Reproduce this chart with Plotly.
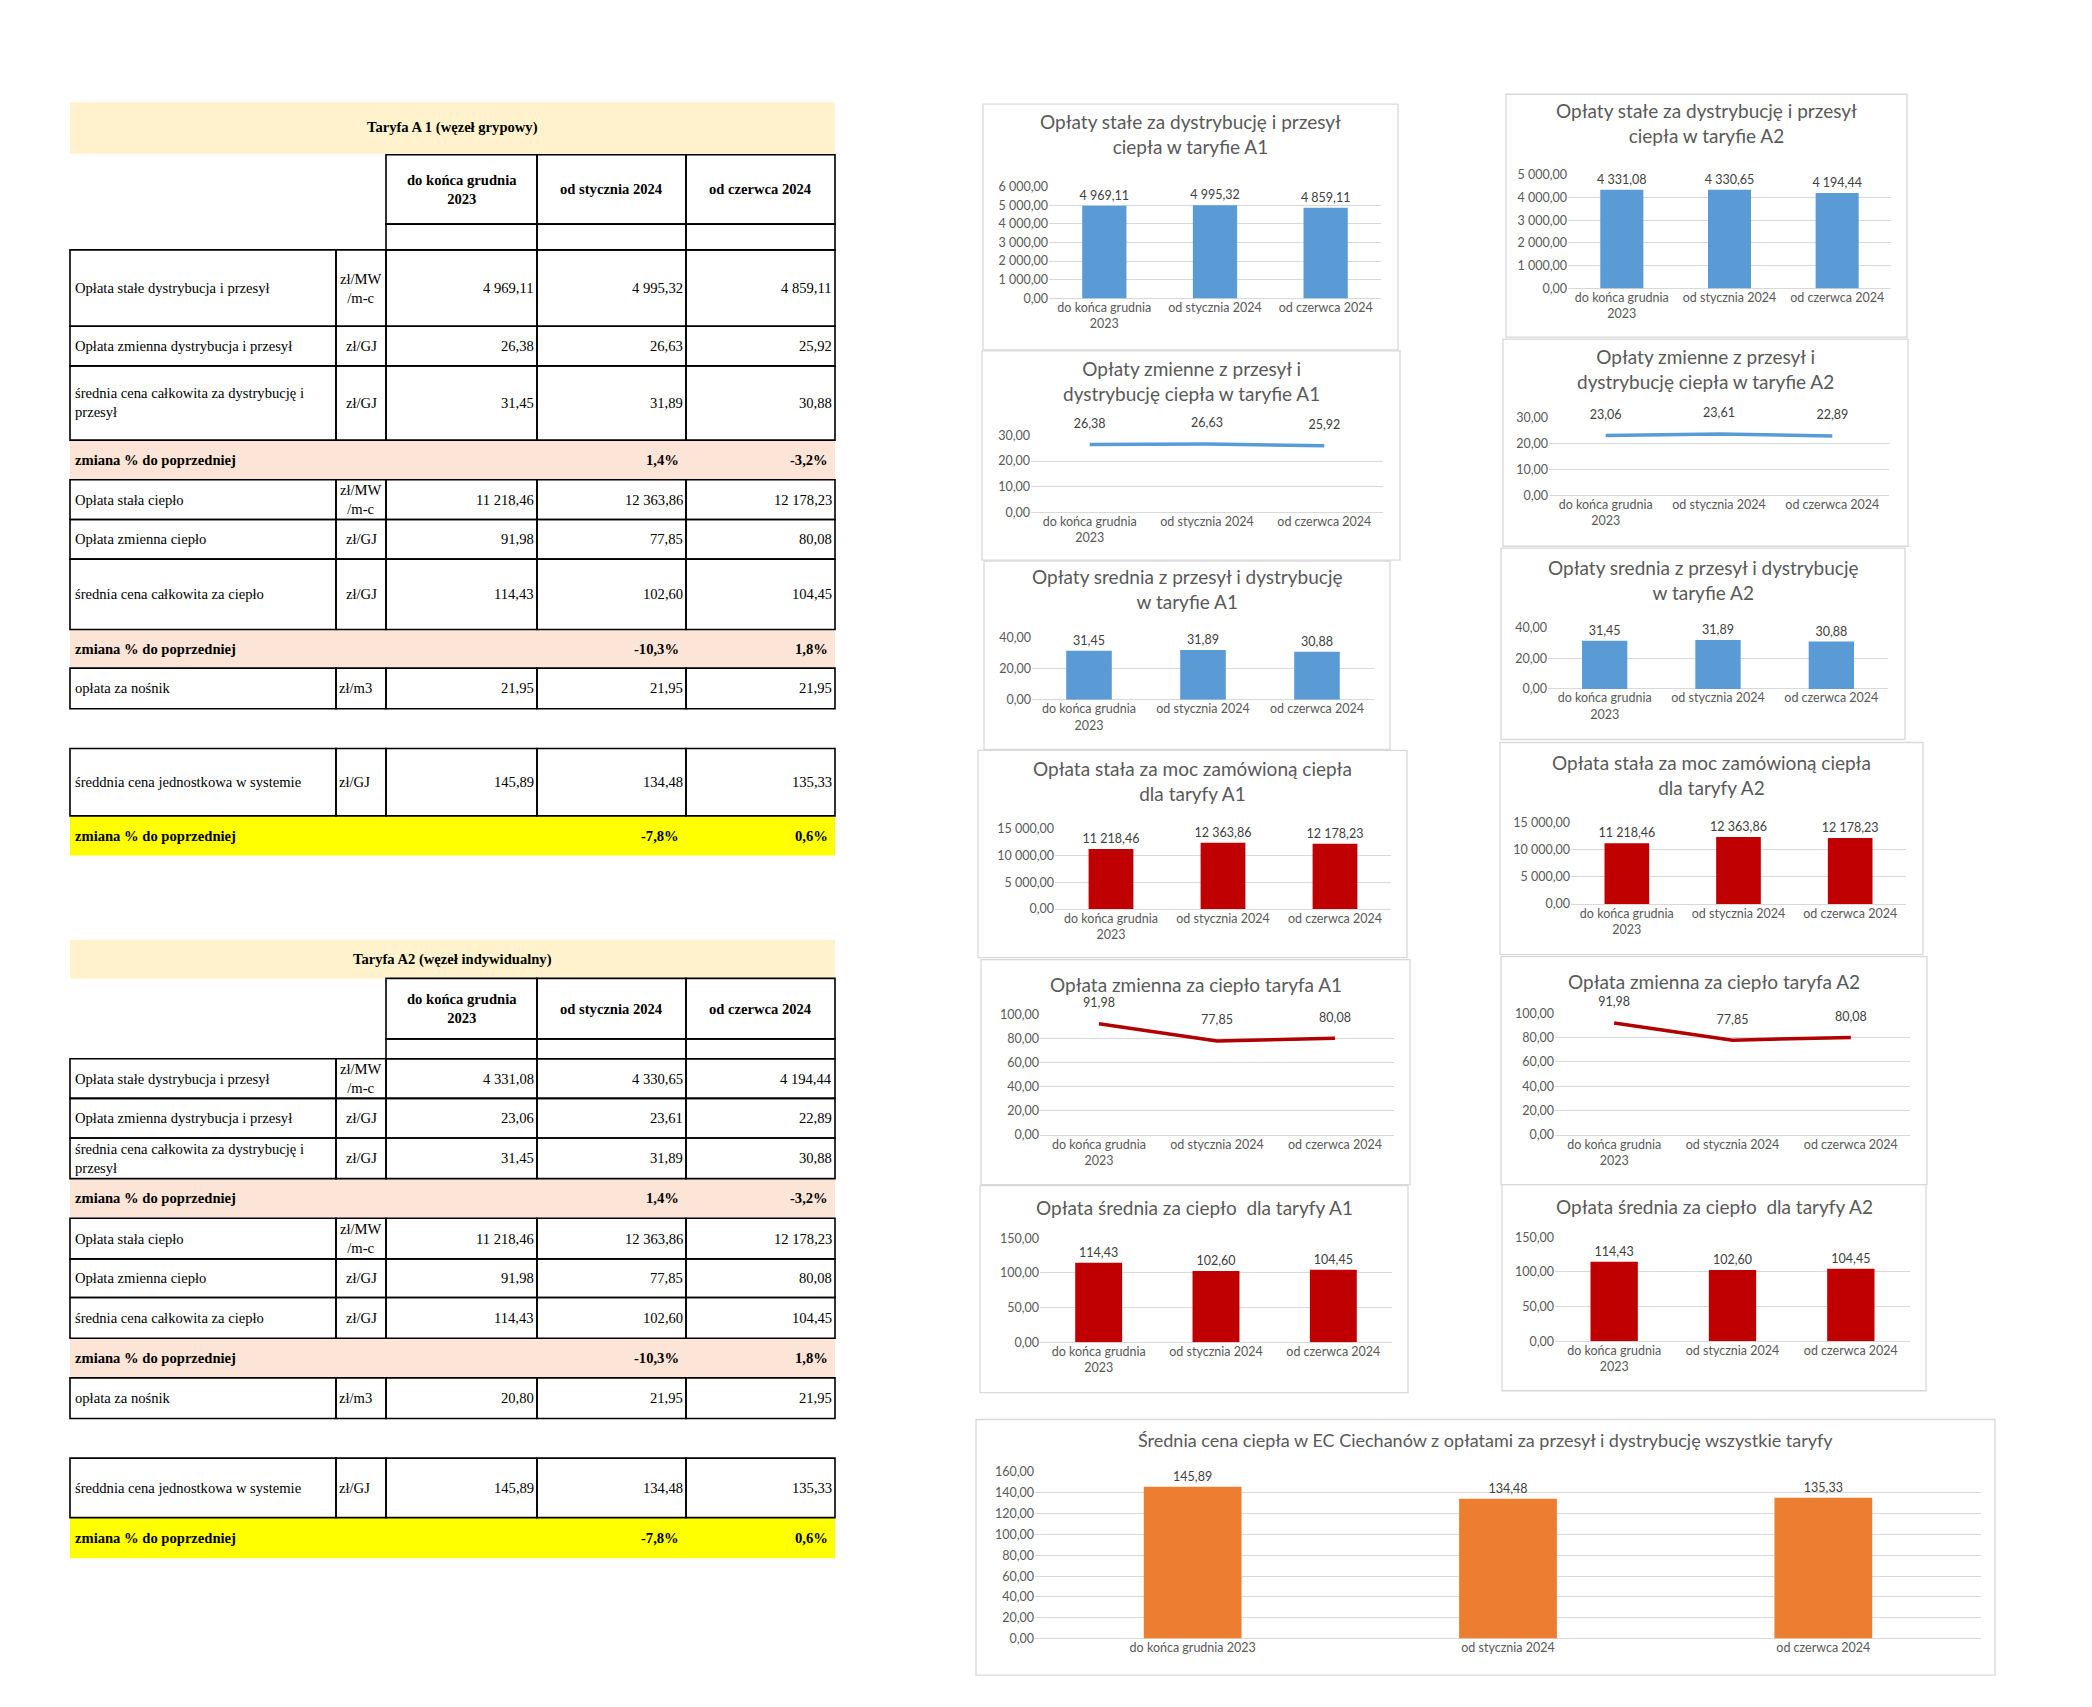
import plotly.graph_objects as go

W, H = 2092, 1707

# ---------------- DATA ----------------
periods = ["do końca grudnia 2023", "od stycznia 2024", "od czerwca 2024"]

# Taryfa A1 (węzeł grupowy)
a1_stale_dp = [4969.11, 4995.32, 4859.11]
a1_zmienne_dp = [26.38, 26.63, 25.92]
a1_srednia_dp = [31.45, 31.89, 30.88]
a1_zmiana_dp = [None, 1.4, -3.2]
a1_stala_cieplo = [11218.46, 12363.86, 12178.23]
a1_zmienna_cieplo = [91.98, 77.85, 80.08]
a1_srednia_cieplo = [114.43, 102.60, 104.45]
a1_zmiana_cieplo = [None, -10.3, 1.8]
a1_nosnik = [21.95, 21.95, 21.95]
a1_srednia_system = [145.89, 134.48, 135.33]
a1_zmiana_system = [None, -7.8, 0.6]

# Taryfa A2 (węzeł indywidualny)
a2_stale_dp = [4331.08, 4330.65, 4194.44]
a2_zmienne_dp = [23.06, 23.61, 22.89]
a2_srednia_dp = [31.45, 31.89, 30.88]
a2_zmiana_dp = [None, 1.4, -3.2]
a2_stala_cieplo = [11218.46, 12363.86, 12178.23]
a2_zmienna_cieplo = [91.98, 77.85, 80.08]
a2_srednia_cieplo = [114.43, 102.60, 104.45]
a2_zmiana_cieplo = [None, -10.3, 1.8]
a2_nosnik = [20.80, 21.95, 21.95]
a2_srednia_system = [145.89, 134.48, 135.33]
a2_zmiana_system = [None, -7.8, 0.6]

# Średnia cena ciepła w EC Ciechanów
srednia_ec = [145.89, 134.48, 135.33]

table_titles = ["Taryfa A 1 (węzeł grypowy)", "Taryfa A2 (węzeł indywidualny)"]
row_labels = [
    "Opłata stałe dystrybucja i przesył",
    "Opłata zmienna dystrybucja i przesył",
    "średnia cena całkowita za dystrybucję i<br>przesył",
    "zmiana % do poprzedniej",
    "Opłata stała ciepło",
    "Opłata zmienna ciepło",
    "średnia cena całkowita za ciepło",
    "zmiana % do poprzedniej",
    "opłata za nośnik",
    "średdnia cena jednostkowa w systemie",
    "zmiana % do poprzedniej",
]
row_units = ["zł/MW<br>/m-c", "zł/GJ", "zł/GJ", "", "zł/MW<br>/m-c", "zł/GJ", "zł/GJ", "", "zł/m3", "zł/GJ", ""]
a1_rows = [a1_stale_dp, a1_zmienne_dp, a1_srednia_dp, a1_zmiana_dp, a1_stala_cieplo,
           a1_zmienna_cieplo, a1_srednia_cieplo, a1_zmiana_cieplo, a1_nosnik,
           a1_srednia_system, a1_zmiana_system]
a2_rows = [a2_stale_dp, a2_zmienne_dp, a2_srednia_dp, a2_zmiana_dp, a2_stala_cieplo,
           a2_zmienna_cieplo, a2_srednia_cieplo, a2_zmiana_cieplo, a2_nosnik,
           a2_srednia_system, a2_zmiana_system]

chart_titles = [
    "Opłaty stałe za dystrybucję i przesył<br>ciepła w taryfie A1",
    "Opłaty zmienne z przesył i<br>dystrybucję ciepła w taryfie A1",
    "Opłaty srednia z przesył i dystrybucję<br>w taryfie A1",
    "Opłata stała za moc zamówioną ciepła<br>dla taryfy A1",
    "Opłata zmienna za ciepło taryfa A1",
    "Opłata średnia za ciepło  dla taryfy A1",
    "Opłaty stałe za dystrybucję i przesył<br>ciepła w taryfie A2",
    "Opłaty zmienne z przesył i<br>dystrybucję ciepła w taryfie A2",
    "Opłaty srednia z przesył i dystrybucję<br>w taryfie A2",
    "Opłata stała za moc zamówioną ciepła<br>dla taryfy A2",
    "Opłata zmienna za ciepło taryfa A2",
    "Opłata średnia za ciepło  dla taryfy A2",
    "Średnia cena ciepła w EC Ciechanów z opłatami za przesył i dystrybucję wszystkie taryfy",
]
chart_values = [a1_stale_dp, a1_zmienne_dp, a1_srednia_dp, a1_stala_cieplo, a1_zmienna_cieplo,
                a1_srednia_cieplo, a2_stale_dp, a2_zmienne_dp, a2_srednia_dp, a2_stala_cieplo,
                a2_zmienna_cieplo, a2_srednia_cieplo, srednia_ec]

# ---------------- STYLE / GEOMETRY ----------------
TFONT = "Liberation Serif"
CFONT = "Lato"
TSIZE = 14.6
CSIZE = 12.5
BAND = "#FFF2CC"
PINK = "#FCE4D6"
YELLOW = "#FFFF00"
BLUE = "#5B9BD5"
RED = "#C00000"
DARKRED = "#B00000"
ORANGE = "#ED7D31"
GRID = "#D9D9D9"

def X(x):
    return x / W

def Y(y):
    return 1 - y / H

fills, borders, annotations = [], [], []

def rect(lst, x0, y0, x1, y1, fill=None, line=None, lw=1.6):
    lst.append(dict(type="rect", xref="paper", yref="paper", x0=X(x0), x1=X(x1), y0=Y(y1), y1=Y(y0),
                    fillcolor=fill if fill else "rgba(0,0,0,0)",
                    line=dict(color=line if line else "rgba(0,0,0,0)", width=lw if line else 0),
                    layer="below"))

def text(x, y, s, xanchor="left", size=TSIZE, bold=False, color="black", family=TFONT, yanchor="middle"):
    annotations.append(dict(xref="paper", yref="paper", x=X(x), y=Y(y),
                            text=f"<b>{s}</b>" if bold else s, showarrow=False,
                            xanchor=xanchor, yanchor=yanchor, align=xanchor if xanchor != "center" else "center",
                            font=dict(family=family, size=size, color=color), borderpad=0))

def fmt(v):
    return f"{v:,.2f}".replace(",", " ").replace(".", ",")

def fmtp(v):
    return "" if v is None else f"{v:.1f}%".replace(".", ",")

def wrap(s):
    a, b = s.rsplit(" ", 1)
    return f"{a}<br>{b}" if len(s) > 18 else s

row_kinds = ["data", "data", "data", "pct", "data", "data", "data", "pct", "data", "data", "pcty"]
unit_align = ["center"] * 8 + ["left", "left", "left"]

table_geoms = [
    dict(cols=[70, 336, 386, 537, 686, 835], band=(95, 147), head=(148, 218, 244),
         rows=[(244, 321), (321, 361), (361, 436), (436, 476), (476, 516), (516, 556),
               (556, 627), (627, 666), (666, 707), (747, 815), (815, 855)]),
    dict(cols=[70, 336, 386, 537, 686, 835], band=(940, 979), head=(979, 1040, 1060),
         rows=[(1060, 1100), (1100, 1140), (1140, 1181), (1181, 1221), (1221, 1262), (1262, 1301),
               (1301, 1342), (1342, 1382), (1382, 1423), (1463, 1523), (1523, 1564)]),
]

for title, rows, g in zip(table_titles, [a1_rows, a2_rows], table_geoms):
    c = g["cols"]
    b0, b1 = g["band"]
    rect(fills, c[0], b0, c[5], b1, fill=BAND)
    text((c[0] + c[5]) / 2, (b0 + b1) / 2, title, "center", bold=True)
    h0, h1, h2 = g["head"]
    for i in range(3):
        rect(borders, c[2 + i], h0, c[3 + i], h1, line="black")
        rect(borders, c[2 + i], h1, c[3 + i], h2, line="black")
        text((c[2 + i] + c[3 + i]) / 2, (h0 + h1) / 2, wrap(periods[i]), "center", bold=True)
    for lab, unit, vals, kind, ua, (y0, y1) in zip(row_labels, row_units, rows, row_kinds, unit_align, g["rows"]):
        ym = (y0 + y1) / 2
        if kind == "data":
            rect(borders, c[0], y0, c[1], y1, line="black")
            rect(borders, c[1], y0, c[2], y1, line="black")
            for i in range(3):
                rect(borders, c[2 + i], y0, c[3 + i], y1, line="black")
                text(c[3 + i] - 2, ym, fmt(vals[i]), "right")
            text(c[0] + 4, ym, lab, "left")
            if ua == "center":
                text((c[1] + c[2]) / 2, ym, unit, "center")
            else:
                text(c[1] + 2, ym, unit, "left")
        else:
            rect(fills, c[0], y0, c[5], y1, fill=PINK if kind == "pct" else YELLOW)
            text(c[0] + 4, ym, lab, "left", bold=True)
            for i in (1, 2):
                text(c[3 + i] - 6, ym, fmtp(vals[i]), "right", bold=True)

# chart geometry: (kind, color, ymax, dtick, box, plot area, title center y, bar width, wrap labels)
chart_geoms = [
    ("bar", BLUE, 6000, 1000, (983, 97, 1398, 345), (1049, 180, 1381, 293), 127, 0.4, True),
    ("line", BLUE, 30, 10, (982, 346, 1400, 557), (1031, 431, 1383, 509), 376, None, True),
    ("bar", BLUE, 40, 20, (984, 558, 1390, 748), (1032, 635, 1374, 698), 586, 0.4, True),
    ("bar", RED, 15000, 5000, (978, 749, 1407, 958), (1055, 828, 1391, 909), 780, 0.4, True),
    ("line", DARKRED, 100, 20, (981, 960, 1410, 1187), (1040, 1015, 1394, 1137), 985, None, True),
    ("bar", RED, 150, 50, (980, 1188, 1408, 1397), (1040, 1241, 1392, 1346), 1210, 0.4, True),
    ("bar", BLUE, 5000, 1000, (1506, 87, 1907, 332), (1568, 168, 1891, 283), 116, 0.4, True),
    ("line", BLUE, 30, 10, (1503, 334, 1908, 543), (1549, 413, 1889, 492), 364, None, True),
    ("bar", BLUE, 40, 20, (1501, 545, 1905, 738), (1548, 625, 1888, 687), 577, 0.4, True),
    ("bar", RED, 15000, 5000, (1500, 741, 1923, 955), (1571, 822, 1906, 904), 774, 0.4, True),
    ("line", DARKRED, 100, 20, (1501, 957, 1927, 1187), (1555, 1014, 1910, 1137), 982, None, True),
    ("bar", RED, 150, 50, (1502, 1187, 1926, 1395), (1555, 1240, 1910, 1345), 1209, 0.4, True),
    ("bar", ORANGE, 160, 20, (976, 1424, 1995, 1682), (1035, 1477, 1981, 1645), 1445, 0.31, False),
]

fig = go.Figure()
layout_axes = {}
for n, (title, vals, g) in enumerate(zip(chart_titles, chart_values, chart_geoms), start=1):
    kind, color, ymax, dtick, box, plot, ty, bw, wrp = g
    xr = "x" if n == 1 else f"x{n}"
    yr = "y" if n == 1 else f"y{n}"
    xa = "xaxis" if n == 1 else f"xaxis{n}"
    ya = "yaxis" if n == 1 else f"yaxis{n}"
    rect(borders, box[0], box[1], box[2], box[3], line=GRID, lw=1.3)
    tsize = 18 if n == 13 else 19
    text((box[0] + box[2]) / 2, ty, title, "center", size=tsize, color="#595959", family=CFONT)
    if kind == "bar":
        fig.add_trace(go.Bar(x=periods, y=vals, width=bw, marker=dict(color=color, line=dict(width=0)),
                             texttemplate="%{y:,.2f}", textposition="outside", cliponaxis=False,
                             constraintext="none",
                             textfont=dict(family=CFONT, size=CSIZE, color="#404040"),
                             xaxis=xr, yaxis=yr, hoverinfo="skip"))
    else:
        fig.add_trace(go.Scatter(x=periods, y=vals, mode="lines+markers+text",
                                 line=dict(color=color, width=3.5),
                                 marker=dict(size=20, color="rgba(0,0,0,0)"),
                                 texttemplate="%{y:,.2f}", textposition="top center", cliponaxis=False,
                                 textfont=dict(family=CFONT, size=CSIZE, color="#404040"),
                                 xaxis=xr, yaxis=yr, hoverinfo="skip"))
    x0, y0, x1, y1 = plot
    layout_axes[xa] = dict(domain=[X(x0), X(x1)], anchor=yr, type="category", range=[-0.5, 2.5],
                           showgrid=False, showline=False, zeroline=False, ticks="",
                           tickmode="array", tickvals=periods,
                           ticktext=[wrap(p) for p in periods] if wrp else periods,
                           tickfont=dict(family=CFONT, size=CSIZE, color="#595959"), fixedrange=True)
    layout_axes[ya] = dict(domain=[Y(y1), Y(y0)], anchor=xr, range=[0, ymax * 1.0005], dtick=dtick,
                           tick0=0, tickformat=",.2f", showgrid=True, gridcolor=GRID, gridwidth=1,
                           zeroline=True, zerolinecolor=GRID, zerolinewidth=1, showline=False, ticks="",
                           tickfont=dict(family=CFONT, size=CSIZE, color="#595959"), fixedrange=True)

fig.update_layout(
    width=W, height=H, margin=dict(l=0, r=0, t=0, b=0),
    paper_bgcolor="white", plot_bgcolor="rgba(0,0,0,0)",
    showlegend=False, separators=", ",
    shapes=fills + borders, annotations=annotations,
    **layout_axes,
)

fig.write_html("out.html", config={"displayModeBar": False},
               post_script="document.body.style.margin='0';document.body.style.overflow='hidden';")
